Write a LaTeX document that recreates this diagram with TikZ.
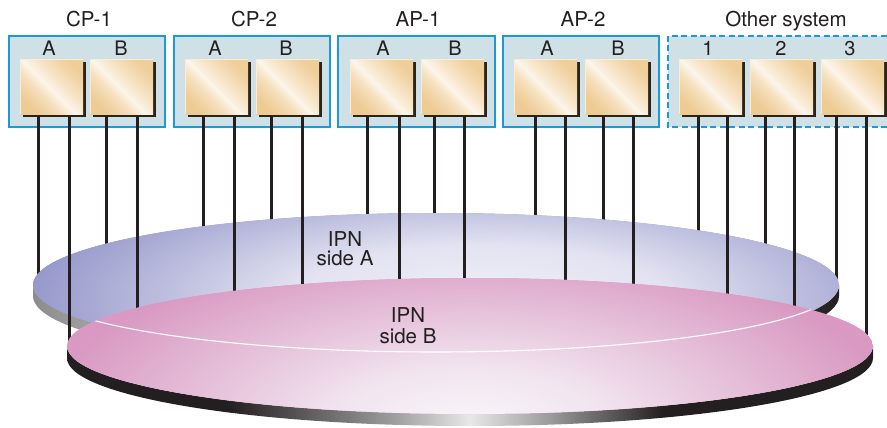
\documentclass[tikz,border=0pt]{standalone}
\usepackage{fontspec}
\setmainfont{TeX Gyre Heros}
\usetikzlibrary{shadows}
\definecolor{boxfill}{HTML}{CFE1E7}
\definecolor{boxline}{HTML}{1A9AD7}
\definecolor{wire}{HTML}{231F20}
\definecolor{sqdark}{HTML}{2D2418}
\definecolor{tanA}{HTML}{EECB93}
\definecolor{tanB}{HTML}{F6E0BD}
\definecolor{tanL}{HTML}{FCF5EA}
\definecolor{tanC}{HTML}{F8E7CC}
\definecolor{tanD}{HTML}{EFCE9A}
\definecolor{tanEdge}{HTML}{F8EDD6}
\definecolor{blueE}{HTML}{9193C8}
\definecolor{blueM}{HTML}{E2E2F1}
\definecolor{blueL}{HTML}{F1F1F8}
\definecolor{pinkE}{HTML}{D999C2}
\definecolor{pinkM}{HTML}{F1E4EF}
\definecolor{pinkL}{HTML}{F8F6FA}
\definecolor{rimg1}{HTML}{8C8C8C}
\definecolor{rimg2}{HTML}{A8A8A8}
\definecolor{rimg3}{HTML}{C0C0C0}
\definecolor{rimg4}{HTML}{444444}
\definecolor{rimb1}{HTML}{9A9A9A}
\definecolor{rimb2}{HTML}{E8E8E8}
\pgfdeclarehorizontalshading{sqshade}{100bp}{color(0bp)=(tanA); color(25bp)=(tanA); color(40bp)=(tanB); color(48bp)=(tanL); color(56bp)=(tanC); color(75bp)=(tanD); color(100bp)=(tanD)}
\pgfdeclareradialshading{diskAshade}{\pgfpoint{0bp}{0bp}}{color(0bp)=(blueL); color(10bp)=(blueM); color(25bp)=(blueE); color(50bp)=(blueE)}
\pgfdeclareradialshading{diskBshade}{\pgfpoint{0bp}{0bp}}{color(0bp)=(pinkL); color(8bp)=(pinkM); color(25bp)=(pinkE); color(50bp)=(pinkE)}
\pgfdeclarehorizontalshading{rimAshade}{100bp}{color(0bp)=(rimg1); color(25bp)=(rimg1); color(30bp)=(rimg2); color(50bp)=(rimg3); color(68bp)=(rimg4); color(75bp)=(wire); color(100bp)=(wire)}
\pgfdeclarehorizontalshading{rimBshade}{100bp}{color(0bp)=(wire); color(25bp)=(wire); color(35bp)=(wire); color(45bp)=(rimb1); color(50bp)=(rimb2); color(55bp)=(rimb1); color(62bp)=(wire); color(75bp)=(wire); color(100bp)=(wire)}
\tikzset{
  sysbox/.style={fill=boxfill, draw=boxline, line width=1.6pt},
  sqnode/.style={minimum width=63pt, minimum height=55pt, inner sep=0pt, anchor=north west,
    shading=sqshade, shading angle=45,
    drop shadow={shadow xshift=2.6pt, shadow yshift=-2.6pt, fill=sqdark, opacity=1}},
  ttl/.style={font=\fontsize{20.5}{22}\selectfont, text=wire, anchor=base, inner sep=0pt},
  sub/.style={font=\fontsize{20}{22}\selectfont, text=wire, anchor=base, inner sep=0pt},
  ipn/.style={font=\fontsize{20.5}{22}\selectfont, text=wire, anchor=base, inner sep=0pt},
  wireline/.style={draw=wire, line width=3pt},
}
\begin{document}
\begin{tikzpicture}[x=1pt, y=-1pt]
\useasboundingbox (0,0) rectangle (887,428);
\clip (0,0) rectangle (887,428);
% system boxes
\draw[sysbox] (9,36) rectangle (165,127);
\draw[sysbox] (174,36) rectangle (330,127);
\draw[sysbox] (338,36) rectangle (495,127);
\draw[sysbox] (503,36) rectangle (659,127);
\draw[sysbox, dash pattern=on 6pt off 3.5pt] (668,36) rectangle (900,127);
% titles
\node[ttl] (tcp1) at (89,27) {CP-1};
\node[ttl] (tcp2) at (254,27) {CP-2};
\node[ttl] (tap1) at (418,27) {AP-1};
\node[ttl] (tap2) at (583,27) {AP-2};
\node[ttl] (toth) at (786,27) {Other system};
% sub labels
\foreach \n/\x/\t in {a/49/A, b/121/B, c/215/A, d/286/B, e/383/A, f/455/B, g/547/A, h/618/B, i/708/1, j/781/2, k/850/3}
  \node[sub] (l\n) at (\x,56) {\t};
% squares
\foreach \n/\x in {a/20, b/90, c/185, d/256, e/350, f/421, g/514, h/585, i/679, j/750, k/821}{
  \node[sqnode] (s\n) at (\x,59) {};
  \draw[tanEdge, line width=0.8pt] (s\n.south west) -- (s\n.north west) -- (s\n.north east);
}
% wires to side A
\foreach \x in {38,106,203,271,367,434,535,603,698,765,836}
  \draw[wireline] (\x,116) -- (\x,{288-72*sqrt(1-((\x-436)/403)^2)});
% disk A
\shade[shading=rimAshade] (33,285) -- (33,296) arc[start angle=180, end angle=0, x radius=403, y radius=72] -- (839,285) arc[start angle=0, end angle=180, x radius=403, y radius=72] -- cycle;
\begin{scope}
  \clip (436,285) ellipse [x radius=403, y radius=72];
  \fill[blueE] (436,285) ellipse [x radius=403, y radius=72];
  \shade[shading=diskAshade] (480,300) ellipse [x radius=470, y radius=140];
\end{scope}
\node[ipn] (ipnA1) at (345,246) {IPN};
\node[ipn] (ipnA2) at (345,265) {side A};
% wires to side B
\foreach \x in {69,137,234,302,399,464,565,633,727,794,866}
  \draw[wireline] (\x,116) -- (\x,{349-68*sqrt(1-((\x-470)/403)^2)});
% disk B
\shade[shading=rimBshade] (67,346) -- (67,358) arc[start angle=180, end angle=0, x radius=403, y radius=68] -- (873,346) arc[start angle=0, end angle=180, x radius=403, y radius=68] -- cycle;
\begin{scope}
  \clip (470,346) ellipse [x radius=403, y radius=68];
  \fill[pinkE] (470,346) ellipse [x radius=403, y radius=68];
  \shade[shading=diskBshade] (470,425) ellipse [x radius=430, y radius=180];
  \draw[white, line width=1.1pt] (33,285) arc[start angle=180, end angle=0, x radius=403, y radius=67];
\end{scope}
\node[ipn] (ipnB1) at (408,322) {IPN};
\node[ipn] (ipnB2) at (408,343) {side B};
\end{tikzpicture}
\end{document}
